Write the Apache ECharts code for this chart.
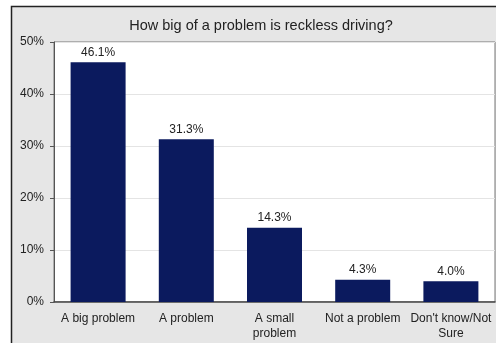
<!DOCTYPE html>
<html><head><meta charset="utf-8">
<script src="https://cdn.jsdelivr.net/npm/echarts@6/dist/echarts.min.js"></script>
<style>html,body{margin:0;padding:0;background:#fff}#c{width:496px;height:343px}</style>
</head><body><div id="c"></div>
<script>
var categories = ["A big problem", "A problem", "A small\nproblem", "Not a problem", "Don't know/Not\nSure"];
var values = [46.1, 31.3, 14.3, 4.3, 4.0];
var yTicks = [0, 10, 20, 30, 40, 50];
var titleText = "How big of a problem is reckless driving?";

var chart = echarts.init(document.getElementById('c'), null, {renderer: 'canvas'});
chart.setOption({
  backgroundColor: '#ffffff',
  animation: false,
  graphic: [{
    type: 'rect', z: -10, silent: true,
    shape: {x: 11.5, y: 6.5, width: 500, height: 360},
    style: {fill: '#e6e6e6', stroke: '#222', lineWidth: 1.5}
  }],
  title: {
    text: titleText, left: 256, top: 13, textAlign: 'center',
    textStyle: {fontFamily: 'Liberation Sans, Arial', fontSize: 14.5, fontWeight: 'normal', color: '#222'}
  },
  grid: {left: 54, right: 1, top: 42, bottom: 41, show: true, backgroundColor: '#ffffff', borderColor: '#777', borderWidth: 1},
  xAxis: {
    type: 'category', data: categories,
    axisLine: {lineStyle: {color: '#444', width: 1.5}},
    axisTick: {show: false},
    axisLabel: {interval: 0, color: '#222', fontFamily: 'Liberation Sans, Arial', fontSize: 12, margin: 9, lineHeight: 15}
  },
  yAxis: {
    type: 'value', min: 0, max: 50, interval: 10,
    axisLine: {show: true, lineStyle: {color: '#555', width: 1}},
    axisTick: {show: true, length: 4, lineStyle: {color: '#555'}},
    splitLine: {show: true, lineStyle: {color: '#e4e4e4'}},
    axisLabel: {color: '#222', fontFamily: 'Liberation Sans, Arial', fontSize: 12, margin: 10,
      formatter: function(v){ return v + '%'; }}
  },
  series: [{
    type: 'bar', data: values, barWidth: 55,
    itemStyle: {color: '#0b1a5e'},
    label: {show: true, position: 'top', distance: 4, color: '#222', fontFamily: 'Liberation Sans, Arial', fontSize: 12,
      formatter: function(p){ return p.value.toFixed(1) + '%'; }}
  }]
});
</script></body></html>
